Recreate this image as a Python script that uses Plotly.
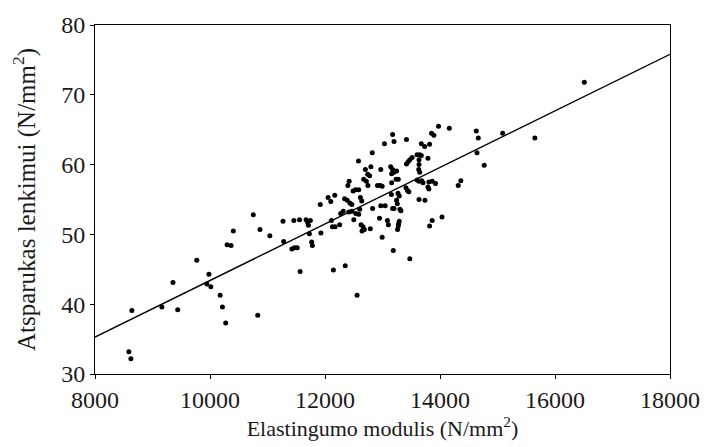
import plotly.graph_objects as go

# Elasticity modulus (N/mm^2)
modulus = [
    8589, 8624, 8641, 9163, 9357, 9438, 9770, 9981, 9946, 10015, 10177, 10216, 10273,
    10297, 10366, 10405, 10754, 10869, 11041, 10830, 11269, 11281,
    11458, 11556, 11671, 11699, 11711, 11745, 11728, 11424, 11470, 11517, 11768, 11780,
    11568, 11917, 11929, 12054, 12101, 12170, 12111, 12128, 12175, 12255, 12146, 12352,
    12558, 12273, 12317, 12341, 12386, 12432, 12467, 12398, 12420, 12489, 12530, 12587,
    12415, 12467, 12535, 12587, 12501, 12582, 12616, 12639, 12604, 12627, 12661, 12644,
    12685, 12702, 12742, 12673, 12719, 12776, 12798, 12822, 12747, 12788, 12828, 12913,
    12960, 12994, 12948, 12970, 12994, 12970, 13046, 13034, 13085, 13102, 13159, 13154,
    13142, 13176, 13159, 13200, 13245, 13176, 13200, 13176, 13200, 13188, 13235, 13274,
    13269, 13291, 13245, 13257, 13303, 13320, 13291, 13279, 13274, 13262, 13407, 13434,
    13458, 13417, 13417, 13446, 13475, 13515, 13475, 13601, 13647, 13675, 13635, 13635,
    13630, 13647, 13601, 13635, 13681, 13704, 13635, 13738, 13675, 13733, 13819, 13790,
    13807, 13864, 13922, 13819, 13864, 13790, 13807, 13853, 13893, 13974, 14035, 14162,
    14317, 14362, 14631, 14666, 14643, 14769, 15090, 15650, 16510,
]
# Bending strength (N/mm^2)
strength = [
    33.2, 32.2, 39.1, 39.6, 43.1, 39.2, 46.3, 44.3, 42.9, 42.5, 41.3, 39.6, 37.3,
    48.5, 48.4, 50.5, 52.8, 50.7, 49.8, 38.4, 51.9, 49.0,
    52.0, 52.1, 52.1, 51.7, 51.3, 52.0, 50.1, 47.9, 48.1, 48.1, 48.9, 48.4,
    44.7, 54.3, 50.2, 55.3, 54.7, 55.6, 52.0, 51.1, 51.1, 51.4, 44.9, 45.5,
    41.3, 53.0, 53.3, 55.1, 54.9, 54.5, 54.3, 57.0, 57.6, 56.2, 56.4, 56.4,
    53.2, 53.3, 53.0, 52.9, 52.1, 60.5, 55.3, 54.8, 53.6, 51.4, 51.1, 50.5,
    50.7, 59.3, 58.6, 57.9, 57.6, 58.4, 59.7, 61.7, 57.0, 50.8, 53.7, 57.0,
    57.0, 56.9, 52.3, 59.3, 49.6, 54.1, 54.1, 63.0, 52.0, 51.4, 57.4, 55.7,
    59.7, 59.3, 58.7, 58.9, 59.1, 53.7, 53.7, 64.3, 63.3, 47.7, 57.9, 57.9,
    55.9, 55.5, 54.9, 54.4, 53.6, 53.4, 51.9, 51.5, 51.2, 50.7, 56.7, 56.3,
    56.1, 63.6, 60.1, 60.4, 60.7, 61.0, 46.5, 61.4, 61.4, 61.3, 60.7, 60.0,
    59.3, 58.9, 57.8, 57.6, 57.7, 57.4, 55.0, 54.9, 63.0, 62.6, 62.9, 60.9,
    57.5, 57.6, 57.3, 51.2, 52.0, 56.8, 56.5, 64.5, 64.2, 65.5, 52.5, 65.2,
    57.0, 57.7, 64.8, 63.8, 61.7, 59.9, 64.5, 63.8, 71.8,
]
# Regression line end points
fit_x = [8000, 18000]
fit_y = [35.3, 75.8]

x_ticks = [8000, 10000, 12000, 14000, 16000, 18000]
y_ticks = [30, 40, 50, 60, 70, 80]

font_family = "Liberation Serif, Times New Roman, serif"
text_color = "#1a1a1a"

fig = go.Figure()
fig.add_trace(go.Scatter(
    x=fit_x, y=fit_y, mode="lines",
    line=dict(color="black", width=1.4),
    showlegend=False, hoverinfo="skip",
))
fig.add_trace(go.Scatter(
    x=modulus, y=strength, mode="markers",
    marker=dict(color="black", size=5),
    showlegend=False,
))

axis_common = dict(
    showgrid=False, zeroline=False, showline=True, linecolor="black", linewidth=1,
    mirror=True, ticks="outside", ticklen=4, tickcolor="black",
    tickfont=dict(family=font_family, size=24, color=text_color),
)
fig.update_xaxes(
    range=[8000, 18000], tickvals=x_ticks, ticktext=[str(v) for v in x_ticks],
    title=dict(text="Elastingumo modulis (N/mm<sup>2</sup>)",
               font=dict(family=font_family, size=22, color=text_color), standoff=4),
    **axis_common,
)
fig.update_yaxes(
    range=[30, 80], tickvals=y_ticks, ticktext=[str(v) for v in y_ticks],
    title=dict(text="Atsparukas lenkimui (N/mm<sup>2</sup>)",
               font=dict(family=font_family, size=25, color=text_color), standoff=18),
    **axis_common,
)
fig.update_layout(
    width=712, height=447,
    margin=dict(l=95, r=33, t=19, b=73),
    plot_bgcolor="white", paper_bgcolor="white",
)
fig.write_html("out.html")
